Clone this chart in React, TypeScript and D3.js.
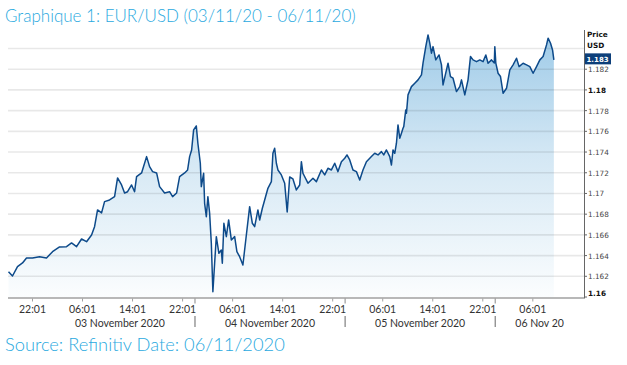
import React from "react";
import * as d3 from "d3";

// hours since 2020-11-03 00:00
const hours = [
  -5.82, -5.18, -4.38, -3.58, -2.94, -1.98, -0.86, 0.26, 1.22, 2.34, 3.46, 4.26, 5.06, 5.86, 6.66, 7.46, 7.94, 8.42, 9.06, 9.54,
  10.34, 11.14, 11.62, 12.26, 12.74, 13.22, 13.86, 14.34, 14.66, 15.46, 16.26, 16.74, 17.22, 17.86, 18.34, 19.14, 19.94, 20.42, 21.06, 21.54,
  22.34, 22.82, 23.14, 23.46, 23.78, 24.21, 24.46, 24.85, 25.01, 25.38, 25.54, 25.81, 26.06, 26.34, 26.61, 26.86, 27.14, 27.41, 27.82, 28.21,
  28.37, 28.62, 29.01, 29.38, 29.81, 30.34, 30.7, 31.14, 31.66, 32.21, 32.74, 33.17, 33.54, 34.06, 34.34, 34.77, 35.14, 35.66, 36.21, 36.46,
  36.74, 37.01, 37.26, 37.81, 38.34, 38.74, 39.14, 39.66, 40.21, 40.74, 41.01, 41.26, 42.06, 42.86, 43.41, 44.21, 44.74, 45.26, 45.81, 46.34,
  46.86, 47.41, 47.94, 48.3, 48.74, 49.26, 49.81, 50.34, 50.86, 51.41, 52.21, 52.74, 53.26, 53.81, 54.18, 54.61, 55.14, 55.41, 55.66, 55.94,
  56.21, 56.46, 56.74, 57.01, 57.26, 57.38, 57.7, 57.81, 58.06, 58.61, 59.14, 59.66, 60.21, 60.46, 60.9, 61.26, 61.54, 61.81, 62.06, 62.5,
  63.02, 63.41, 63.66, 64.21, 64.46, 64.85, 65.26, 65.81, 66.34, 66.61, 67.14, 67.66, 68.05, 68.46, 69.01, 69.54, 70.06, 70.5, 70.86, 71.41,
  71.86, 71.94, 72.1, 72.46, 72.85, 73.26, 73.81, 74.34, 74.86, 75.41, 75.82, 76.46, 77.01, 77.54, 78.06, 78.61, 79.14, 79.66, 80.21, 80.46,
  80.85, 81.17, 81.38,
];
const prices = [
  1.16244, 1.16203, 1.16293, 1.16329, 1.16377, 1.16377, 1.16389, 1.16377, 1.16438, 1.16483, 1.16486, 1.16522, 1.16486, 1.1656, 1.16534, 1.16599, 1.16679, 1.16841, 1.16812, 1.16921,
  1.16937, 1.16969, 1.1715, 1.17082, 1.17005, 1.17017, 1.17082, 1.17017, 1.17162, 1.17198, 1.17356, 1.17259, 1.17211, 1.17198, 1.17066, 1.17005, 1.17017, 1.16969, 1.17005, 1.17162,
  1.17198, 1.17227, 1.17356, 1.1742, 1.17614, 1.17652, 1.17485, 1.17292, 1.17066, 1.17195, 1.16905, 1.16776, 1.16969, 1.16809, 1.16519, 1.16051, 1.16326, 1.16583, 1.16422, 1.16454,
  1.16326, 1.16712, 1.16583, 1.16744, 1.16551, 1.16583, 1.16438, 1.16389, 1.16309, 1.16599, 1.16872, 1.16712, 1.16679, 1.16841, 1.16744, 1.16857, 1.16937, 1.1705, 1.17114, 1.17388,
  1.17437, 1.17292, 1.17227, 1.17179, 1.17099, 1.16821, 1.17159, 1.1714, 1.17034, 1.17082, 1.17307, 1.17195, 1.17099, 1.17147, 1.17114, 1.17227, 1.17179, 1.17243, 1.17227, 1.17292,
  1.17211, 1.17307, 1.1734, 1.17372, 1.17324, 1.17227, 1.17211, 1.1713, 1.17227, 1.17307, 1.17356, 1.17388, 1.17372, 1.17404, 1.17372, 1.1742, 1.17356, 1.17275, 1.1742, 1.17388,
  1.17485, 1.17662, 1.17533, 1.17582, 1.1763, 1.17645, 1.17807, 1.17775, 1.17952, 1.18032, 1.18065, 1.18097, 1.18145, 1.18258, 1.18418, 1.18531, 1.18451, 1.18355, 1.18418, 1.1829,
  1.18338, 1.18242, 1.18048, 1.18193, 1.18258, 1.18129, 1.18113, 1.17984, 1.18032, 1.18097, 1.17952, 1.18097, 1.18322, 1.1829, 1.18273, 1.1829, 1.18273, 1.18338, 1.18258, 1.1829,
  1.18261, 1.18418, 1.18258, 1.18161, 1.18129, 1.17968, 1.18016, 1.18193, 1.18242, 1.18306, 1.18225, 1.18258, 1.18242, 1.18225, 1.18161, 1.18225, 1.1829, 1.18322, 1.18435, 1.185,
  1.18451, 1.18386, 1.1829,
];

const timeTickHours = [-1.983, 6.017, 14.017, 22.017, 30.017, 38.017, 46.017, 54.017, 62.017, 70.017, 78.017];
const timeTickLabels = ["22:01", "06:01", "14:01", "22:01", "06:01", "14:01", "22:01", "06:01", "14:01", "22:01", "06:01"];
const dayBreakHours = [24, 48, 72];
const dayLabelHours = [12, 36, 60, 79.1];
const dayLabels = ["03 November 2020", "04 November 2020", "05 November 2020", "06 Nov 20"];
const priceTicks = [1.16, 1.162, 1.164, 1.166, 1.168, 1.17, 1.172, 1.174, 1.176, 1.178, 1.18, 1.182];
const gridValues = [1.162, 1.164, 1.166, 1.168, 1.17, 1.172, 1.174, 1.176, 1.178, 1.18, 1.182, 1.184];
const lastPrice = "1.183";

const title = "Graphique 1: EUR/USD (03/11/20 - 06/11/20)";
const source = "Source: Refinitiv Date: 06/11/2020";

export default function App() {
  const W = 627, H = 365;
  const left = 8, right = 584, top = 30, bottom = 297.5;
  const x = d3.scaleLinear().domain([-5.9, 86.2]).range([left, right]);
  const y = d3.scaleLinear().domain([1.16, 1.184]).range([297, 48.5]);
  const data = hours.map((h, i) => ({ h, v: prices[i] }));
  const line = d3.line<any>().x((d) => x(d.h)).y((d) => y(d.v));
  const area = d3.area<any>().x((d) => x(d.h)).y0(bottom).y1((d) => y(d.v));
  const blue = "#29a9e0";
  const axisFont = "Lato, 'Open Sans', sans-serif";
  const numFont = "'DejaVu Sans', Verdana, sans-serif";
  const numSize = 7.3;

  return (
    <svg width={W} height={H} style={{ position: "absolute", left: 0, top: 0, background: "#fff" }}>
      <defs>
        <linearGradient id="fillGrad" gradientUnits="userSpaceOnUse" x1="0" y1="35" x2="0" y2={bottom}>
          <stop offset="0" stopColor="#9fcbe8" />
          <stop offset="0.45" stopColor="#d3e7f4" />
          <stop offset="1" stopColor="#fbfdfe" />
        </linearGradient>
      </defs>
      <rect x={0} y={0} width={W} height={H} fill="#fff" />
      <text x={5} y={22} fill={blue} fontFamily={axisFont} fontSize={17} fontWeight={300}>{title}</text>

      <path d={area(data) || ""} fill="url(#fillGrad)" />
      {gridValues.map((v) => (
        <line key={v} x1={left} x2={right} y1={y(v)} y2={y(v)} stroke="rgba(0,0,0,0.09)" strokeWidth={1.6} />
      ))}
      <path d={line(data) || ""} fill="none" stroke="#0d4a8a" strokeWidth={1.5} strokeLinejoin="round" />

      {/* bottom axis */}
      <line x1={left} x2={right} y1={bottom + 0.5} y2={bottom + 0.5} stroke="#a0a0a0" strokeWidth={1.5} />
      {timeTickHours.map((h, i) => (
        <g key={i}>
          <line x1={x(h)} x2={x(h)} y1={bottom + 1} y2={bottom + 4} stroke="#a0a0a0" />
          <text x={x(h)} y={313} textAnchor="middle" fontFamily={axisFont} fontSize={10.5} fill="#333">{timeTickLabels[i]}</text>
        </g>
      ))}
      {dayBreakHours.map((h) => (
        <g key={h}>
          <line x1={x(h)} x2={x(h)} y1={bottom + 1} y2={bottom + 6} stroke="#888" />
          <line x1={x(h)} x2={x(h)} y1={316} y2={327} stroke="#666" />
        </g>
      ))}
      {dayLabelHours.map((h, i) => (
        <text key={i} x={x(h)} y={327} textAnchor="middle" fontFamily={axisFont} fontSize={10.5} fill="#333">{dayLabels[i]}</text>
      ))}

      {/* right axis */}
      <line x1={right + 0.5} x2={right + 0.5} y1={top} y2={bottom + 1} stroke="#666" strokeWidth={1} />
      {priceTicks.map((v) => {
        const bold = Math.abs(v - 1.16) < 1e-9 || Math.abs(v - 1.18) < 1e-9;
        return (
          <g key={v}>
            <line x1={right} x2={right + 3} y1={y(v)} y2={y(v)} stroke="#666" />
            <text x={right + 4} y={v === 1.16 ? y(v) - 1 : y(v) + 3} fontFamily={numFont} fontSize={numSize}
              fontWeight={bold ? "bold" : "normal"} fill={bold ? "#111" : "#444"}>
              {String(v)}
            </text>
          </g>
        );
      })}
      <text x={right + 3} y={37} fontFamily={numFont} fontSize={numSize} fontWeight="bold" fill="#111">Price</text>
      <text x={right + 3} y={48} fontFamily={numFont} fontSize={numSize} fontWeight="bold" fill="#111">USD</text>
      <rect x={right + 1} y={y(+lastPrice) - 5.5} width={26} height={11} fill="#0d3f7a" />
      <text x={right + 2.5} y={y(+lastPrice) + 3} fontFamily={numFont} fontSize={7} fontWeight="bold" fill="#fff">{lastPrice}</text>

      <text x={5} y={351} fill={blue} fontFamily={axisFont} fontSize={18.3} fontWeight={300}>{source}</text>
    </svg>
  );
}
